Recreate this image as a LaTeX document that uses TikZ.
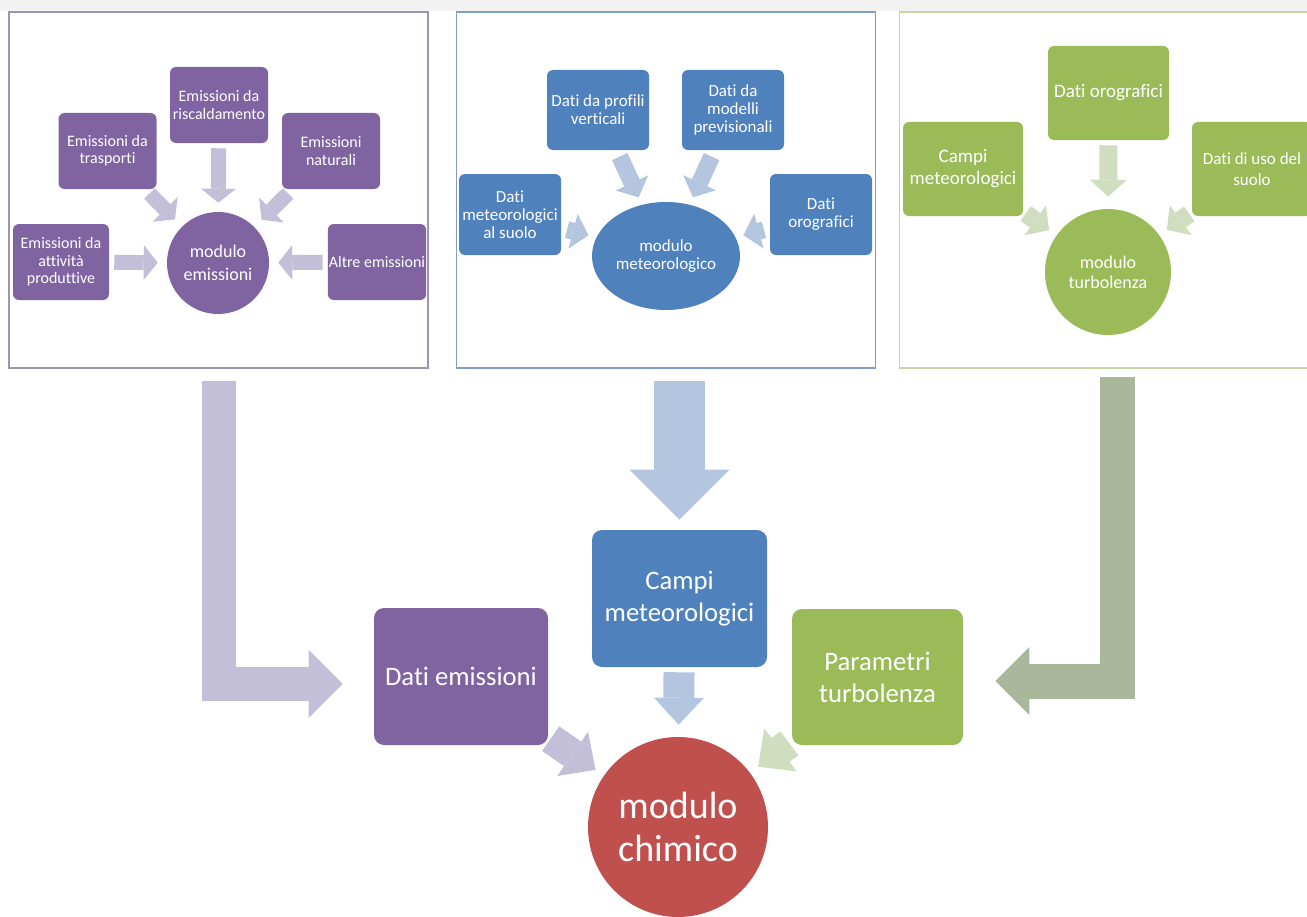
\documentclass[tikz,border=0pt]{standalone}
\usepackage{fontspec}
\setmainfont{Carlito}[Ligatures=NoCommon]
\usetikzlibrary{positioning,arrows.meta,shapes.geometric}

\newlength{\pxu}\setlength{\pxu}{0.75pt}

\definecolor{emiP}{HTML}{8064A2}
\definecolor{metB}{HTML}{4F81BD}
\definecolor{turG}{HTML}{9BBB59}
\definecolor{chiR}{HTML}{C0504D}
\definecolor{arrP}{HTML}{C4BFD9}
\definecolor{arrB}{HTML}{B3C5DF}
\definecolor{arrG}{HTML}{D0DEBF}
\definecolor{arrGd}{HTML}{AAB79B}
\definecolor{bordP}{HTML}{9A96B2}
\definecolor{bordB}{HTML}{809DC4}
\definecolor{bordG}{HTML}{C6D6A4}

\tikzset{
  panel/.style={rectangle, line width=1.3\pxu, fill=white, minimum width=419\pxu, minimum height=356\pxu},
  box/.style={rectangle, rounded corners=6\pxu, text=white, align=center, inner sep=1\pxu},
  ebox/.style={box, fill=emiP, minimum width=98\pxu, minimum height=76\pxu, font=\fontsize{12}{13}\selectfont},
  mbox/.style={box, fill=metB, minimum width=102\pxu, minimum height=80\pxu, font=\fontsize{12.75}{13.5}\selectfont},
  tbox/.style={box, fill=turG, minimum width=120\pxu, minimum height=94\pxu, font=\fontsize{14.25}{16.5}\selectfont},
  bigbox/.style={box, rounded corners=10\pxu, minimum width=174\pxu, minimum height=137\pxu, font=\fontsize{20}{24}\selectfont},
  modulo/.style={circle, text=white, align=center, inner sep=0pt},
  parr/.style={draw=arrP, line width=15\pxu, -{Triangle[width=26.25pt,length=10.5pt,line width=0pt]}, shorten <=5\pxu, shorten >=9\pxu},
  barr/.style={draw=arrB, line width=17\pxu, -{Triangle[width=27pt,length=12pt,line width=0pt]}, shorten <=7\pxu, shorten >=8\pxu},
  garr/.style={draw=arrG, line width=18\pxu, -{Triangle[width=27.75pt,length=12.75pt,line width=0pt]}, shorten <=3\pxu, shorten >=9\pxu},
  larr/.style={line width=34\pxu, line join=miter, -{Triangle[width=51pt,length=25.5pt,line width=0pt]}}
}

\begin{document}
\begin{tikzpicture}[x=\pxu, y=-\pxu]
  \useasboundingbox (0,0) rectangle (1307,917);
  \clip (0,0) rectangle (1307,917);
  \fill[gray!10] (0,0) rectangle (1307,11);

  % three input panels
  \node[panel, draw=bordP] (panE) at (218.5,190) {};
  \node[panel, draw=bordB] (panM) at (666,190) {};
  \node[panel, draw=bordG] (panT) at (1109,190) {};

  % emissions
  \node[ebox] (risc) at (219,105) {Emissioni da\\riscaldamento};
  \node[ebox] (trasp) at (107.5,151) {Emissioni da\\trasporti};
  \node[ebox] (natur) at (331,151) {Emissioni\\naturali};
  \node[ebox, minimum width=96\pxu] (attiv) at (61,262) {Emissioni da\\attività\\produttive};
  \node[ebox] (altre) at (377,262) {Altre emissioni};
  \node[modulo, fill=emiP, minimum size=102\pxu, font=\fontsize{13.5}{17}\selectfont] (memi) at (218,263) {modulo\\emissioni};

  \draw[parr] (risc) -- (memi);
  \draw[parr, shorten <=6\pxu, shorten >=10\pxu] (trasp) -- (memi);
  \draw[parr, shorten <=6\pxu, shorten >=10\pxu] (natur) -- (memi);
  \draw[parr] (attiv) -- (memi);
  \draw[parr] (altre) -- (memi);

  % meteorology
  \node[mbox] (prof) at (598,110) {Dati da profili\\verticali};
  \node[mbox] (modl) at (733,110) {Dati da\\modelli\\previsionali};
  \node[mbox, minimum height=81\pxu] (suol) at (510,214.5) {Dati\\meteorologici\\al suolo};
  \node[mbox, minimum height=81\pxu] (orog) at (821,214.5) {Dati\\orografici};
  \node[ellipse, fill=metB, text=white, align=center, inner sep=0pt, minimum width=148\pxu, minimum height=108\pxu, font=\fontsize{12.75}{13.5}\selectfont] (mmet) at (666,256) {modulo\\meteorologico};

  \draw[barr] (prof) -- (mmet);
  \draw[barr] (modl) -- (mmet);
  \draw[barr, shorten <=6\pxu] (suol) -- (mmet);
  \draw[barr, shorten <=6\pxu] (orog) -- (mmet);

  % turbulence
  \node[tbox, minimum width=121\pxu] (orog2) at (1108.5,93) {Dati orografici};
  \node[tbox] (campi2) at (963,169) {Campi\\meteorologici};
  \node[tbox, font=\fontsize{12.75}{16}\selectfont] (uso) at (1252,169) {Dati di uso del\\suolo};
  \node[modulo, fill=turG, minimum size=126\pxu, font=\fontsize{13.5}{15}\selectfont] (mturb) at (1108,272) {modulo\\turbolenza};

  \draw[garr, shorten <=5\pxu, shorten >=12\pxu] (orog2) -- (mturb);
  \draw[garr] (campi2) -- (mturb);
  \draw[garr] (uso) -- (mturb);

  % chemical module
  \node[bigbox, fill=emiP] (datiemi) at (461,676.5) {Dati emissioni};
  \node[bigbox, fill=metB, minimum width=175\pxu] (campi) at (679.5,598.5) {Campi\\meteorologici};
  \node[bigbox, fill=turG, minimum width=171\pxu, minimum height=136\pxu] (param) at (877.5,677) {Parametri\\turbolenza};
  \node[modulo, fill=chiR, minimum size=180\pxu, font=\fontsize{28.5}{32}\selectfont] (chim) at (678,827) {modulo\\chimico};

  \draw[larr, draw=arrP, shorten <=12\pxu, shorten >=31\pxu] (panE.south) |- ([yshift=-5.5pt]datiemi.west);
  \draw[larr, draw=arrGd, line width=35\pxu, shorten <=8\pxu, shorten >=32\pxu] ([xshift=6.4pt]panT.south) |- ([yshift=-3pt]param.east);
  \draw[draw=arrB, line width=51\pxu, -{Triangle[width=75pt,length=37.5pt,line width=0pt]}, shorten <=12\pxu, shorten >=10\pxu] (panM.south -| campi.north) -- (campi.north);

  \draw[draw=arrB, line width=31\pxu, -{Triangle[width=37.5pt,length=20.25pt,line width=0pt]}, shorten <=5\pxu, shorten >=12\pxu] (campi) -- (chim);
  \draw[draw=arrP, line width=30\pxu, -{Triangle[width=40.5pt,length=21pt,line width=0pt]}, shorten <=3\pxu, shorten >=10\pxu] (datiemi) -- (chim);
  \draw[draw=arrG, line width=30\pxu, -{Triangle[width=40.5pt,length=21pt,line width=0pt]}, shorten <=3\pxu, shorten >=10\pxu] (param) -- (chim);
\end{tikzpicture}
\end{document}
